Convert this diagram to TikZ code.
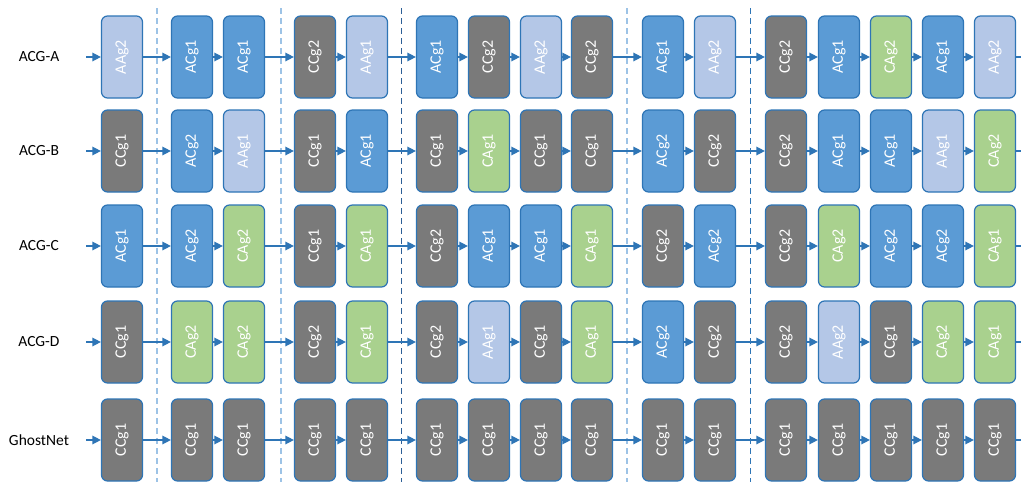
\documentclass[tikz,border=0pt]{standalone}
\usepackage{fontspec}
\setmainfont{Carlito}
\usetikzlibrary{arrows.meta}
\definecolor{acblue}{HTML}{5B9BD5}
\definecolor{aalight}{HTML}{B4C7E7}
\definecolor{ccgray}{HTML}{7A7A7A}
\definecolor{cagreen}{HTML}{A9D18E}
\definecolor{edgeblue}{HTML}{2E75B6}
\definecolor{sepblue}{HTML}{9DC3E6}
\definecolor{sepdark}{HTML}{2C5E96}
\tikzset{
  flowarrow/.style={-{Triangle[length=8.5pt,width=8.5pt]}, line width=1.4pt, edgeblue},
  blockbox/.style={draw=edgeblue, line width=1.2pt, rounded corners=6pt, rotate=90, minimum width=82pt, minimum height=41pt, inner sep=0pt, text=white, font=\fontsize{16}{19}\selectfont},
  AC/.style={blockbox, fill=acblue},
  AA/.style={blockbox, fill=aalight},
  CC/.style={blockbox, fill=ccgray},
  CA/.style={blockbox, fill=cagreen},
  rowlabel/.style={font=\fontsize{15.5}{18}\selectfont, inner sep=0pt},
  sepline/.style={dash pattern=on 6pt off 4pt, line width=1.1pt}
}

\begin{document}
\begin{tikzpicture}[x=1pt, y=-1pt]
  \useasboundingbox[fill=white] (0,0) rectangle (1021,482);

  % stage separators
  \foreach \x/\col/\w in {157/sepblue/1.1, 281/sepblue/1.1, 401/sepdark/0.8, 627/sepblue/1.1, 750/edgeblue/0.9}
    \draw[sepline, \col, line width=\w pt] (\x,8) -- (\x,482);

  % columns and rows
  \foreach \x [count=\c] in {122,192,244,315,367,437,489,541,592,663,715,786,839,891,943,995}
    \coordinate (col\c) at (\x,0);
  \foreach \y/\name [count=\r] in {57/ACG-A, 151/ACG-B, 246/ACG-C, 342/ACG-D, 440/GhostNet} {
    \node[rowlabel] (lbl\r) at (39,\y) {\name};
    \coordinate (in\r) at (86,\y);
    \coordinate (out\r) at (1021,\y);
  }

  % ACG-A
  \foreach \t/\g [count=\c] in {AA/2, AC/1, AC/1, CC/2, AA/1, AC/1, CC/2, AA/2, CC/2, AC/1, AA/2, CC/2, AC/1, CA/2, AC/1, AA/2}
    \node[\t] (a\c) at (col\c |- in1) {\t g\g};
  \draw[flowarrow] (in1) -- (a1);
  \foreach \c [evaluate=\c as \p using int(\c-1)] in {2,...,16}
    \draw[flowarrow] (a\p) -- (a\c);
  \draw[flowarrow, -] (a16) -- (out1);

  % ACG-B
  \foreach \t/\g [count=\c] in {CC/1, AC/2, AA/1, CC/1, AC/1, CC/1, CA/1, CC/1, CC/1, AC/2, CC/2, CC/2, AC/1, AC/1, AA/1, CA/2}
    \node[\t] (b\c) at (col\c |- in2) {\t g\g};
  \draw[flowarrow] (in2) -- (b1);
  \foreach \c [evaluate=\c as \p using int(\c-1)] in {2,...,16}
    \draw[flowarrow] (b\p) -- (b\c);
  \draw[flowarrow, -] (b16) -- (out2);

  % ACG-C
  \foreach \t/\g [count=\c] in {AC/1, AC/2, CA/2, CC/1, CA/1, CC/2, AC/1, AC/1, CA/1, CC/2, AC/2, CC/2, CA/2, AC/2, AC/2, CA/1}
    \node[\t] (c\c) at (col\c |- in3) {\t g\g};
  \draw[flowarrow] (in3) -- (c1);
  \foreach \c [evaluate=\c as \p using int(\c-1)] in {2,...,16}
    \draw[flowarrow] (c\p) -- (c\c);
  \draw[flowarrow, -] (c16) -- (out3);

  % ACG-D
  \foreach \t/\g [count=\c] in {CC/1, CA/2, CA/2, CC/2, CA/1, CC/2, AA/1, CC/1, CA/1, AC/2, CC/2, CC/2, AA/2, CC/1, CA/2, CA/1}
    \node[\t] (d\c) at (col\c |- in4) {\t g\g};
  \draw[flowarrow] (in4) -- (d1);
  \foreach \c [evaluate=\c as \p using int(\c-1)] in {2,...,16}
    \draw[flowarrow] (d\p) -- (d\c);
  \draw[flowarrow, -] (d16) -- (out4);

  % GhostNet
  \foreach \c in {1,...,16}
    \node[CC] (g\c) at (col\c |- in5) {CCg1};
  \draw[flowarrow] (in5) -- (g1);
  \foreach \c [evaluate=\c as \p using int(\c-1)] in {2,...,16}
    \draw[flowarrow] (g\p) -- (g\c);
  \draw[flowarrow, -] (g16) -- (out5);
\end{tikzpicture}
\end{document}
